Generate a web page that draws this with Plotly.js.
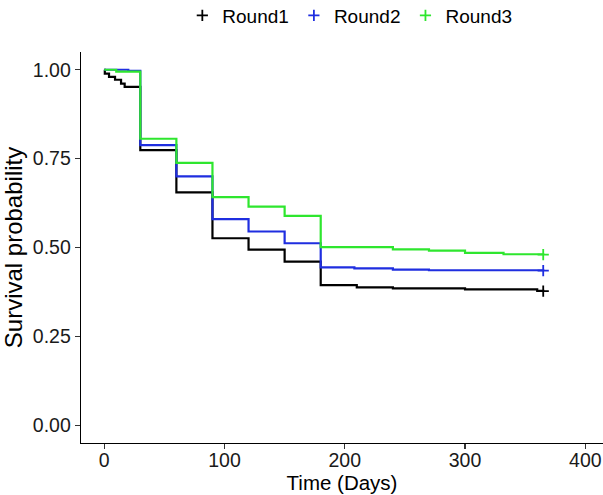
<!DOCTYPE html>
<html>
<head>
<meta charset="utf-8">
<script src="https://cdn.plot.ly/plotly-3.0.1.min.js"></script>
<style>html,body{margin:0;padding:0;background:#fff;overflow:hidden;}#chart{width:603px;height:495px;}</style>
</head>
<body>
<div id="chart"></div>
<script>
// Kaplan-Meier survival estimates
var seriesNames = ["Round1", "Round2", "Round3"];
var seriesColors = ["#000000", "#1f2ee0", "#2ee62e"];

var round1Time = [0, 0.5, 4, 9, 14, 17, 30, 60, 90, 120, 150, 180, 210, 240, 300, 360, 365];
var round1Surv = [1.0, 0.989, 0.980, 0.972, 0.961, 0.952, 0.774, 0.655, 0.526, 0.494, 0.460, 0.394, 0.388, 0.385, 0.382, 0.378, 0.377];

var round2Time = [0, 20, 30, 60, 90, 120, 150, 180, 208, 240, 270, 365];
var round2Surv = [1.0, 0.997, 0.788, 0.700, 0.580, 0.545, 0.512, 0.444, 0.441, 0.438, 0.436, 0.435];

var round3Time = [0, 10, 30, 60, 90, 120, 150, 180, 240, 270, 300, 332, 365];
var round3Surv = [1.0, 0.995, 0.806, 0.738, 0.642, 0.615, 0.589, 0.501, 0.495, 0.491, 0.485, 0.481, 0.480];

// censoring marks (end of follow-up)
var censorTime = [365, 365, 365];
var censorSurv = [0.377, 0.435, 0.480];

var yTickVals = [0, 0.25, 0.5, 0.75, 1.0];
var xTickVals = [0, 100, 200, 300, 400];

var times = [round1Time, round2Time, round3Time];
var survs = [round1Surv, round2Surv, round3Surv];

var traces = [];
for (var i = 0; i < 3; i++) {
  traces.push({
    x: times[i], y: survs[i], type: "scatter", mode: "lines",
    line: {shape: "hv", color: seriesColors[i], width: 2.2},
    showlegend: false, legendgroup: seriesNames[i], hoverinfo: "skip"
  });
}
for (var j = 0; j < 3; j++) {
  traces.push({
    x: [censorTime[j]], y: [censorSurv[j]], type: "scatter", mode: "markers",
    name: seriesNames[j], legendgroup: seriesNames[j],
    marker: {symbol: "cross-thin", size: 8, color: seriesColors[j],
             line: {color: seriesColors[j], width: 1.8}}
  });
}

var fam = "Arial, 'Liberation Sans', sans-serif";
var axisFont = {family: fam, size: 19.5, color: "#1a1a1a"};
var layout = {
  width: 603, height: 495,
  margin: {l: 81, r: 0, t: 52, b: 52, autoexpand: false},
  paper_bgcolor: "#ffffff", plot_bgcolor: "#ffffff",
  font: {family: fam, color: "#1a1a1a"},
  showlegend: true,
  legend: {orientation: "h", x: 0.515, xanchor: "center", y: 1.142, yanchor: "top",
           font: {size: 19, color: "#000"}, traceorder: "normal", itemwidth: 30},
  xaxis: {
    range: [-19.3, 414.7], tickvals: xTickVals, ticktext: xTickVals.map(String),
    showgrid: false, zeroline: false, showline: true, linecolor: "#000", linewidth: 1.3,
    ticks: "outside", ticklen: 5, tickcolor: "#333", tickwidth: 1.2,
    tickfont: axisFont, automargin: false, ticklabelstandoff: -6,
    title: {text: "Time (Days)", font: {size: 20.5, color: "#000"}, standoff: 1}
  },
  yaxis: {
    range: [-0.05, 1.05], tickvals: yTickVals, tickformat: ".2f",
    showgrid: false, zeroline: false, showline: true, linecolor: "#000", linewidth: 1.3,
    ticks: "outside", ticklen: 5, tickcolor: "#333", tickwidth: 1.2,
    tickfont: axisFont, automargin: false,
    title: {text: "Survival probability", font: {size: 24, color: "#000"}, standoff: 7}
  }
};

Plotly.newPlot("chart", traces, layout, {displayModeBar: false, staticPlot: true});
</script>
</body>
</html>
